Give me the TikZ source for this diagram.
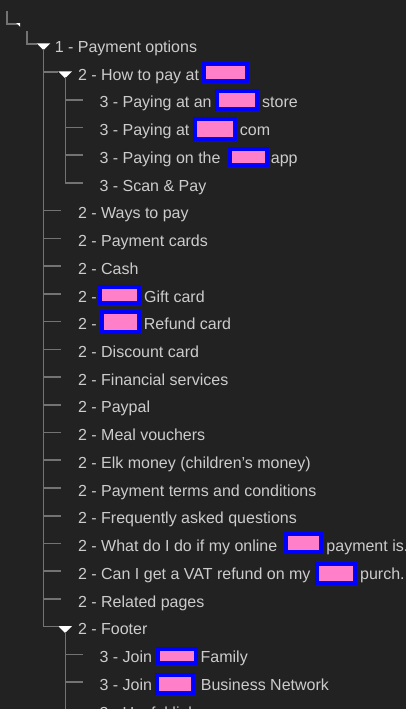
\documentclass[tikz,border=0pt]{standalone}
\usepackage{fontspec}
\setmainfont{Liberation Sans}
\usetikzlibrary{positioning,fit}
\definecolor{bgdark}{HTML}{222222}
\definecolor{treetext}{HTML}{CCCCCC}
\definecolor{treeline}{HTML}{737373}
\definecolor{redpink}{HTML}{FF80C8}

\begin{document}
\begin{tikzpicture}[x=0.75pt,y=-0.75pt,
        lbl/.style={anchor=base west,inner sep=0pt,text=treetext,font=\fontsize{12}{14}\selectfont},
        branch/.style={draw=treeline,line width=1.2pt},
        opener/.style={fill=white},
        redact/.style={draw=blue,fill=redpink,line width=3pt,inner sep=0pt}
    ]
    \useasboundingbox (0,0) rectangle (406,709);
    \fill[bgdark] (0,0) rectangle (406,709);
    \clip (0,0) rectangle (406,709);

    %--- root corners ---
    \draw[branch] (6.7,11) |- (17,24);
    \fill[opener] (16.3,23.2) -- (20.2,23.2) -- (20.2,26.8) -- cycle;
    \draw[branch] (26.7,31) |- (37,44.3);

    %--- open/close triangles ---
    \fill[opener] (36.7,43.3) -- (50.3,43.3) -- (43.5,50) -- cycle;
    \fill[opener] (58.3,71.5) -- (71.9,71.5) -- (65.1,78.2) -- cycle;
    \fill[opener] (58.3,626.2) -- (71.9,626.2) -- (65.1,632.9) -- cycle;

    %--- branches ---
    \draw[branch] (43.6,49) |- (58.3,626.63);
    \draw[branch] (43.6,72.03) -- (58.3,72.03);
    \draw[branch] (43.6,210.68) -- (60.7,210.68) (43.6,238.41) -- (60.7,238.41)
        (43.6,266.14) -- (60.7,266.14) (43.6,293.87) -- (60.7,293.87)
        (43.6,321.6) -- (60.7,321.6) (43.6,349.33) -- (60.7,349.33)
        (43.6,377.06) -- (60.7,377.06) (43.6,404.79) -- (60.7,404.79)
        (43.6,432.52) -- (60.7,432.52) (43.6,460.25) -- (60.7,460.25)
        (43.6,487.98) -- (60.7,487.98) (43.6,515.71) -- (60.7,515.71)
        (43.6,543.44) -- (60.7,543.44) (43.6,571.17) -- (60.7,571.17)
        (43.6,598.9) -- (60.7,598.9);
    \draw[branch] (65.5,77) |- (82.7,182.95);
    \draw[branch] (65.5,99.76) -- (82.7,99.76) (65.5,127.49) -- (82.7,127.49)
        (65.5,155.22) -- (82.7,155.22);
    \draw[branch] (65.5,632) -- (65.5,715);
    \draw[branch] (65.5,654.36) -- (82.7,654.36) (65.5,682.09) -- (82.7,682.09)
        (65.5,709.82) -- (82.7,709.82);

    %--- rows ---
    \node[lbl] (row0) at (54.5,52.5) {1 - Payment options};
    \node[lbl] (row1) at (77.8,80.23) {2 - How to pay at};
    \node[lbl] (row2) at (99.3,107.96) {3 - Paying at an};
    \node[lbl] (row3) at (99.3,135.69) {3 - Paying at};
    \node[lbl] (row4) at (99.3,163.42) {3 - Paying on the};
    \node[lbl] (row5) at (99.3,191.15) {3 - Scan \& Pay};
    \node[lbl] (row6) at (77.8,218.88) {2 - Ways to pay};
    \node[lbl] (row7) at (77.8,246.61) {2 - Payment cards};
    \node[lbl] (row8) at (77.8,274.34) {2 - Cash};
    \node[lbl] (row9) at (77.8,302.07) {2 -};
    \node[lbl] (row10) at (77.8,329.8) {2 -};
    \node[lbl] (row11) at (77.8,357.53) {2 - Discount card};
    \node[lbl] (row12) at (77.8,385.26) {2 - Financial services};
    \node[lbl] (row13) at (77.8,412.99) {2 - Paypal};
    \node[lbl] (row14) at (77.8,440.72) {2 - Meal vouchers};
    \node[lbl] (row15) at (77.8,468.45) {2 - Elk money (children’s money)};
    \node[lbl] (row16) at (77.8,496.18) {2 - Payment terms and conditions};
    \node[lbl] (row17) at (77.8,523.91) {2 - Frequently asked questions};
    \node[lbl] (row18) at (77.8,551.64) {2 - What do I do if my online};
    \node[lbl] (row19) at (77.8,579.37) {2 - Can I get a VAT refund on my};
    \node[lbl] (row20) at (77.8,607.1) {2 - Related pages};
    \node[lbl] (row21) at (77.8,634.83) {2 - Footer};
    \node[lbl] (row22) at (99.3,662.56) {3 - Join};
    \node[lbl] (row23) at (99.3,690.29) {3 - Join};
    \node[lbl] (row24) at (99.3,718.02) {3 - Useful links};

    %--- redacted names ---
    \node[redact,fit={(204,64) (247,81)}] (red1) {};
    \node[redact,fit={(217,91) (257,109)}] (red2) {};
    \node[redact,fit={(195,119) (235,139)}] (red3) {};
    \node[redact,fit={(230,149) (267,165)}] (red4) {};
    \node[redact,fit={(100,287) (139,303)}] (red5) {};
    \node[redact,fit={(102,312) (139,332)}] (red6) {};
    \node[redact,fit={(286,534) (321,552)}] (red7) {};
    \node[redact,fit={(317,564) (355,583)}] (red8) {};
    \node[redact,fit={(158,649) (196,663)}] (red9) {};
    \node[redact,fit={(157,675) (193,693)}] (red10) {};

    %--- text after the boxes ---
    \node[lbl,xshift=2.2pt] (tail2) at (red2.east |- row2.base) {store};
    \node[lbl,xshift=2.0pt] (tail3) at (red3.east |- row3.base) {com};
    \node[lbl,xshift=1.2pt] (tail4) at (red4.east |- row4.base) {app};
    \node[lbl,xshift=2.2pt] (tail5) at (red5.east |- row9.base) {Gift card};
    \node[lbl,xshift=2.0pt] (tail6) at (red6.east |- row10.base) {Refund card};
    \node[lbl,xshift=2.4pt] (tail7) at (red7.east |- row18.base) {payment is.};
    \node[lbl,xshift=2.2pt] (tail8) at (red8.east |- row19.base) {purch.};
    \node[lbl,xshift=1.8pt] (tail9) at (red9.east |- row22.base) {Family};
    \node[lbl,xshift=4.2pt] (tail10) at (red10.east |- row23.base) {Business Network};
\end{tikzpicture}
\end{document}
